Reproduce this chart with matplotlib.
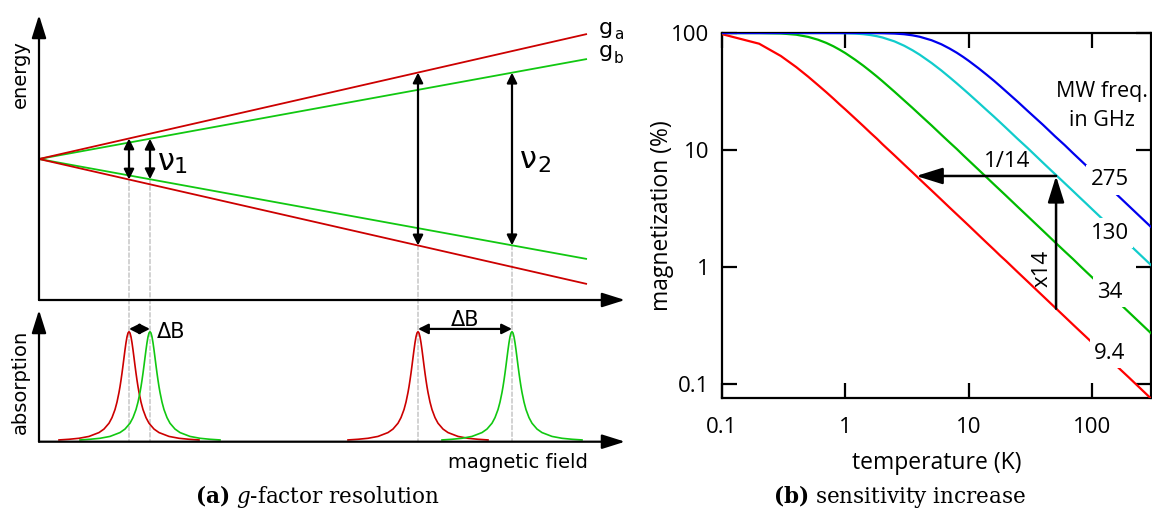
import matplotlib
matplotlib.use('Agg')
import numpy as np
import matplotlib.pyplot as plt
from matplotlib.patches import ConnectionPatch
from matplotlib.ticker import NullLocator, FixedLocator, FixedFormatter

# ---------------- panel (a): g-factor resolution (schematic) ----------------
field_end = 548            # field where the Zeeman level lines end
level_end_a = 125          # level energy at field_end, g_a
level_end_b = 100          # level energy at field_end, g_b
res_field_a = [90, 379]    # resonance fields, g_a (for nu1, nu2)
res_field_b = [111, 473]   # resonance fields, g_b
nu_subscripts = ['1', '2']
peak_offsets = [0, 1, 2, 3, 4, 5, 6, 7, 8, 9, 10, 12, 14, 17, 20, 25, 30, 40, 50, 60, 70]
peak_heights = [1.0, 0.988, 0.953, 0.9, 0.835, 0.764, 0.692, 0.623, 0.559, 0.5, 0.448,
                0.36, 0.292, 0.219, 0.168, 0.115, 0.083, 0.048, 0.031, 0.022, 0.016]

# ---------------- panel (b): sensitivity increase ----------------
temperature = [0.1, 0.2, 0.3, 0.4, 0.5, 0.6, 0.7, 0.8, 0.9,
               1, 1.2, 1.4, 1.6, 1.8, 2, 2.5, 3, 3.5, 4,
               5, 6, 7, 8, 9, 10, 12, 14, 16, 18, 20, 25, 30,
               40, 50, 60, 70, 80, 90, 100, 150, 200, 300]
mag_9_4 = [97.8, 81.0, 63.6, 51.1, 42.3, 35.9, 31.2, 27.5, 24.5,
           22.2, 18.6, 16.0, 14.0, 12.5, 11.2, 9.00, 7.50, 6.44, 5.63,
           4.51, 3.76, 3.22, 2.82, 2.51, 2.26, 1.88, 1.61, 1.41, 1.25, 1.13, 0.902, 0.752,
           0.564, 0.451, 0.376, 0.322, 0.282, 0.251, 0.226, 0.150, 0.113, 0.0752]
mag_34 = [100, 99.94, 99.1, 96.7, 92.6, 87.6, 82.3, 77.0, 71.9,
          67.3, 59.1, 52.5, 47.0, 42.5, 38.7, 31.5, 26.5, 22.9, 20.1,
          16.2, 13.5, 11.6, 10.2, 9.04, 8.14, 6.79, 5.82, 5.09, 4.53, 4.08, 3.26, 2.72,
          2.04, 1.63, 1.36, 1.17, 1.02, 0.906, 0.816, 0.544, 0.408, 0.272]
mag_130 = [100, 100, 100, 100, 100, 100, 99.97, 99.92, 99.8,
           99.6, 98.9, 97.7, 96.0, 93.9, 91.5, 84.8, 77.8, 71.2, 65.3,
           55.4, 47.8, 41.8, 37.1, 33.3, 30.2, 25.4, 21.9, 19.3, 17.2, 15.5, 12.4, 10.4,
           7.78, 6.23, 5.20, 4.46, 3.90, 3.47, 3.12, 2.08, 1.56, 1.04]
mag_275 = [100, 100, 100, 100, 100, 100, 100, 100, 100,
           100, 100, 99.98, 99.95, 99.87, 99.7, 99.0, 97.6, 95.5, 92.9,
           86.7, 80.1, 73.6, 67.8, 62.5, 57.8, 50.0, 43.9, 39.1, 35.1, 31.8, 25.8, 21.6,
           16.4, 13.1, 11.0, 9.40, 8.23, 7.32, 6.59, 4.40, 3.30, 2.20]
freq_labels = ['275', '130', '34', '9.4']
tick_values = [0.1, 1, 10, 100]
tick_labels = ['0.1', '1', '10', '100']
arrow_T = 51          # temperature of the x14 arrow
arrow_M_low = 0.44    # 9.4 GHz magnetization at arrow_T
arrow_M_high = 6.0    # 130 GHz magnetization at arrow_T
arrow_T_left = 3.75   # temperature where 9.4 GHz reaches arrow_M_high

W, H = 1152, 514
fig = plt.figure(figsize=(W / 100, H / 100), dpi=100)

RED_A = '#cc0000'
GREEN_A = '#11c811'
SANS_A = 'DejaVu Sans'

def fbox(left, top, right, bottom):
    return [left / W, 1 - bottom / H, (right - left) / W, (bottom - top) / H]

# energy level diagram
ax1 = fig.add_axes(fbox(39, 15, 625, 300))
ax1.set_xlim(0, 586)
ax1.set_ylim(-141, 144)
ax1.axis('off')

axis_arrow = dict(arrowstyle='-|>,head_length=0.7,head_width=0.22', lw=1.6,
                  color='black', shrinkA=0, shrinkB=0, mutation_scale=20)

ax1.annotate('', xy=(1, 0), xytext=(0, 0), xycoords='axes fraction',
             textcoords='axes fraction', arrowprops=axis_arrow)
ax1.annotate('', xy=(0, 1), xytext=(0, 0), xycoords='axes fraction',
             textcoords='axes fraction', arrowprops=axis_arrow)

for end, col in ((level_end_b, GREEN_A), (level_end_a, RED_A)):
    ax1.plot([0, field_end], [0, end], color=col, lw=1.3, solid_capstyle='butt')
    ax1.plot([0, field_end], [0, -end], color=col, lw=1.3, solid_capstyle='butt')

ax1.text(560, level_end_a, 'g', fontsize=16, family=SANS_A, va='baseline', ha='left')
ax1.text(575, level_end_a - 5, 'a', fontsize=11, family=SANS_A, va='baseline', ha='left')
ax1.text(560, level_end_b + 2, 'g', fontsize=16, family=SANS_A, va='baseline', ha='left')
ax1.text(575, level_end_b - 4, 'b', fontsize=11, family=SANS_A, va='baseline', ha='left')

dbl_arrow = dict(arrowstyle='<|-|>,head_length=0.6,head_width=0.3', lw=1.6,
                 color='black', shrinkA=0, shrinkB=0, mutation_scale=10)

# absorption panel
ax2 = fig.add_axes(fbox(39, 310, 625, 441.7))
ax2.set_xlim(0, 586)
ax2.set_ylim(0, 1.197)
ax2.axis('off')
ax2.annotate('', xy=(1, 0), xytext=(0, 0), xycoords='axes fraction',
             textcoords='axes fraction', arrowprops=axis_arrow)
ax2.annotate('', xy=(0, 1), xytext=(0, 0), xycoords='axes fraction',
             textcoords='axes fraction', arrowprops=axis_arrow)

offs = np.array(peak_offsets, dtype=float)
hts = np.array(peak_heights)
prof_x = np.concatenate([-offs[::-1], offs[1:]])
prof_y = np.concatenate([hts[::-1], hts[1:]])

for i in range(2):
    for b_res, end, col in ((res_field_a[i], level_end_a, RED_A),
                            (res_field_b[i], level_end_b, GREEN_A)):
        e = end / field_end * b_res
        ax1.annotate('', xy=(b_res, e), xytext=(b_res, -e), arrowprops=dbl_arrow)
        con = ConnectionPatch(xyA=(b_res, -e), coordsA=ax1.transData,
                              xyB=(b_res, 0), coordsB=ax2.transData,
                              linestyle=(0, (4, 2)), color='#b0b0b0', lw=0.8, zorder=-1)
        fig.add_artist(con)
        ax2.plot(b_res + prof_x, prof_y, color=col, lw=1.2)
    ax2.annotate('', xy=(res_field_b[i], 1.025), xytext=(res_field_a[i], 1.025),
                 arrowprops=dbl_arrow)

# nu labels
ax1.text(127.5, -2.7, 'ν', fontsize=22, family=SANS_A, ha='center', va='center')
ax1.text(142, -8, nu_subscripts[0], fontsize=16, family=SANS_A, ha='center', va='center')
ax1.text(489, -1, 'ν', fontsize=22, family=SANS_A, ha='center', va='center')
ax1.text(505, -7, nu_subscripts[1], fontsize=16, family=SANS_A, ha='center', va='center')

# Delta B labels
ax2.text(132, 1.0, 'ΔB', fontsize=15, family=SANS_A, ha='center', va='center')
ax2.text(426, 1.11, 'ΔB', fontsize=15, family=SANS_A, ha='center', va='center')

fig.text(20 / W, 1 - 74 / H, 'energy', rotation=90, fontsize=14, family=SANS_A,
         ha='center', va='center')
fig.text(20 / W, 1 - 382 / H, 'absorption', rotation=90, fontsize=14, family=SANS_A,
         ha='center', va='center')
fig.text(588 / W, 1 - 462 / H, 'magnetic field', fontsize=14, family=SANS_A,
         ha='right', va='center')

# ---------------- right panel ----------------
SANS_B = 'Open Sans'
ax3 = fig.add_axes(fbox(722, 33, 1151, 398))
ax3.set_xscale('log')
ax3.set_yscale('log')
ax3.set_xlim(0.1, 300)
ax3.set_ylim(0.076, 100)
for series, col in ((mag_9_4, '#ff0000'), (mag_34, '#00bb00'),
                    (mag_130, '#11cccc'), (mag_275, '#0000ee')):
    ax3.plot(temperature, series, color=col, lw=1.6, zorder=3, clip_on=True)

for sp in ax3.spines.values():
    sp.set_linewidth(1.6)
ax3.xaxis.set_major_locator(FixedLocator(tick_values))
ax3.xaxis.set_major_formatter(FixedFormatter(tick_labels))
ax3.yaxis.set_major_locator(FixedLocator(tick_values))
ax3.yaxis.set_major_formatter(FixedFormatter(tick_labels))
ax3.xaxis.set_minor_locator(NullLocator())
ax3.yaxis.set_minor_locator(NullLocator())
ax3.tick_params(which='major', direction='in', length=11, width=1.6,
                top=True, right=True, labelsize=16)
ax3.tick_params(axis='x', pad=14)
ax3.tick_params(axis='y', pad=9)
for lab in ax3.get_xticklabels() + ax3.get_yticklabels():
    lab.set_family(SANS_B)

ax3.set_xlabel('temperature (K)', fontsize=16.5, family=SANS_B, labelpad=9)
ax3.set_ylabel('magnetization (%)', fontsize=16.5, family=SANS_B, labelpad=-2)

lbl_box = dict(facecolor='white', edgecolor='none', pad=3)
ax3.text(139, 5.55, freq_labels[0], fontsize=16, family=SANS_B, ha='center', va='center', bbox=lbl_box, zorder=5)
ax3.text(139, 1.95, freq_labels[1], fontsize=16, family=SANS_B, ha='center', va='center', bbox=lbl_box, zorder=5)
ax3.text(139, 0.611, freq_labels[2], fontsize=16, family=SANS_B, ha='center', va='center', bbox=lbl_box, zorder=5)
ax3.text(139, 0.184, freq_labels[3], fontsize=16, family=SANS_B, ha='center', va='center', bbox=lbl_box, zorder=5)
ax3.text(120, 24, 'MW freq.\nin GHz', fontsize=15.5, family=SANS_B, ha='center', va='center',
         linespacing=1.5, zorder=5)

big_arrow = dict(arrowstyle='-|>,head_length=0.8,head_width=0.25', lw=1.8,
                 color='black', shrinkA=0, shrinkB=0, mutation_scale=20)
ax3.annotate('', xy=(arrow_T, arrow_M_high), xytext=(arrow_T, arrow_M_low),
             arrowprops=big_arrow, zorder=4)
ax3.annotate('', xy=(arrow_T_left, arrow_M_high), xytext=(arrow_T, arrow_M_high),
             arrowprops=big_arrow, zorder=4)
ax3.text(20.4, 8.05, '1/14', fontsize=16, family=SANS_B, ha='center', va='center', zorder=5)
ax3.text(39.2, 0.98, 'x14', fontsize=16, family=SANS_B, ha='center', va='center',
         rotation=90, zorder=5)

# captions
plt.rcParams['mathtext.fontset'] = 'custom'
plt.rcParams['mathtext.rm'] = 'DejaVu Serif'
plt.rcParams['mathtext.it'] = 'DejaVu Serif:italic'
plt.rcParams['mathtext.bf'] = 'DejaVu Serif:bold'
fig.text(318 / W, 1 - 497 / H, r'$\mathbf{(a)}$ $g$-factor resolution', fontsize=15.5,
         family='DejaVu Serif', ha='center', va='center')
fig.text(900 / W, 1 - 497 / H, r'$\mathbf{(b)}$ sensitivity increase', fontsize=15.5,
         family='DejaVu Serif', ha='center', va='center')

fig.savefig('out.png', dpi=100)
